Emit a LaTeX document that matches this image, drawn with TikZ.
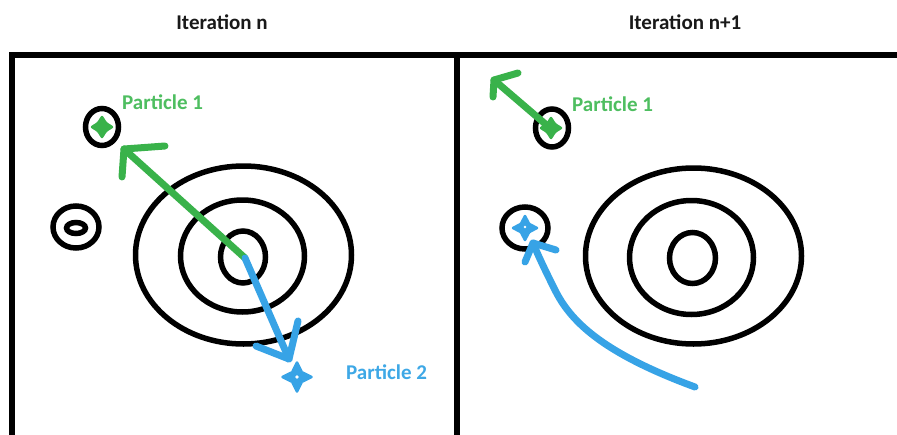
\documentclass[tikz,border=0pt]{standalone}
\usepackage{fontspec}
\setmainfont{Carlito}
\begin{document}
\begin{tikzpicture}[x=1pt,y=-1pt,
  ring/.style={draw=black,line width=5.5pt},
  frame/.style={draw=black,line width=6pt},
  garrow/.style={draw=pgreen,line width=7pt,line cap=round,line join=round},
  barrow/.style={draw=pblue,line width=7pt,line cap=round,line join=round},
  title/.style={font=\bfseries\fontsize{21}{24}\selectfont,text=black!90,inner sep=0pt},
  glabel/.style={font=\bfseries\fontsize{21}{24}\selectfont,text=plgreen,inner sep=0pt,anchor=west},
  blabel/.style={font=\bfseries\fontsize{21}{24}\selectfont,text=plblue,inner sep=0pt,anchor=west}]
\definecolor{pgreen}{RGB}{57,178,74}
\definecolor{plgreen}{RGB}{78,190,96}
\definecolor{pblue}{RGB}{55,163,230}
\definecolor{plblue}{RGB}{62,168,230}
% center, arm length, arm half width, colour
\newcommand{\mystar}[4]{%
  \begin{scope}[shift={(#1)}]
  \fill[#4,draw=#4,line width=2.5pt,line join=round]
    (-#2,0) -- (-0.45*#2,-#3) -- (-1.2*#3,-1.2*#3) -- (-#3,-0.45*#2)
    -- (0,-#2) -- (#3,-0.45*#2) -- (1.2*#3,-1.2*#3) -- (0.45*#2,-#3)
    -- (#2,0) -- (0.45*#2,#3) -- (1.2*#3,1.2*#3) -- (#3,0.45*#2)
    -- (0,#2) -- (-#3,0.45*#2) -- (-1.2*#3,1.2*#3) -- (-0.45*#2,#3) -- cycle;
  \end{scope}}
\useasboundingbox (0,0) rectangle (897,434);
\fill[white] (0,0) rectangle (897,434);
% frame
\draw[frame] (12,437) -- (12,55) -- (900,55);
\draw[frame] (457,55) -- (457,437);
% titles
\node[title] (t1) at (222,22) {Iteration n};
\node[title] (t2) at (685,22) {Iteration n+1};
% ---- left panel ----
\draw[ring] (243.5,255) ellipse [x radius=108, y radius=89];
\draw[ring] (242.5,256) ellipse [x radius=62, y radius=56];
\draw[ring] (243,257) ellipse [x radius=22.5, y radius=26];
\draw[ring] (76,227) ellipse [x radius=23, y radius=21];
\draw[ring] (76,228) ellipse [x radius=9.5, y radius=5.5];
\draw[ring] (102,127) ellipse [x radius=16.5, y radius=18.5];
\coordinate (s1) at (102,127);
\mystar{s1}{10}{3.5}{pgreen}
\coordinate (c1) at (245,258);
\coordinate (g1tip) at (124,149);
\draw[garrow] (c1) -- (g1tip);
\draw[garrow] (165,146) -- (g1tip) -- (122,177);
\node[glabel] (p1a) at (122,102) {Particle 1};
% blue
\coordinate (b1tip) at (289,359);
\draw[barrow] (c1) -- (b1tip);
\draw[barrow] (298,321) -- (b1tip) -- (256,346);
\coordinate (s2) at (297,377);
\mystar{s2}{14.5}{4}{pblue}
\fill[white] (s2) circle (1.8);
\node[blabel] (p2a) at (346,372) {Particle 2};
% ---- right panel ----
\draw[ring] (693.5,256) ellipse [x radius=108, y radius=88];
\draw[ring] (691.5,257.5) ellipse [x radius=62, y radius=57];
\draw[ring] (692.5,258) ellipse [x radius=23, y radius=25.5];
\draw[ring] (552,128) ellipse [x radius=16.5, y radius=19];
\draw[ring] (525,228) ellipse [x radius=23, y radius=21];
\coordinate (s3) at (551,128);
\mystar{s3}{10}{3.5}{pgreen}
\coordinate (c2) at (550,128);
\coordinate (g2tip) at (494,80);
\draw[garrow] (c2) -- (g2tip);
\draw[garrow] (518,73) -- (g2tip) -- (493,97);
\node[glabel] (p1b) at (572,104) {Particle 1};
\coordinate (s4) at (525,228);
\mystar{s4}{12}{3.5}{pblue}
\fill[white] (525,227) circle (1.4);
\coordinate (bs) at (695,387);
\coordinate (b2tip) at (533,243);
\draw[barrow] (bs) .. controls (600,352) and (570,320) .. (555,290) .. controls (543,266) and (538,255) .. (b2tip);
\draw[barrow] (556,250) -- (b2tip) -- (525,262);
\end{tikzpicture}
\end{document}
